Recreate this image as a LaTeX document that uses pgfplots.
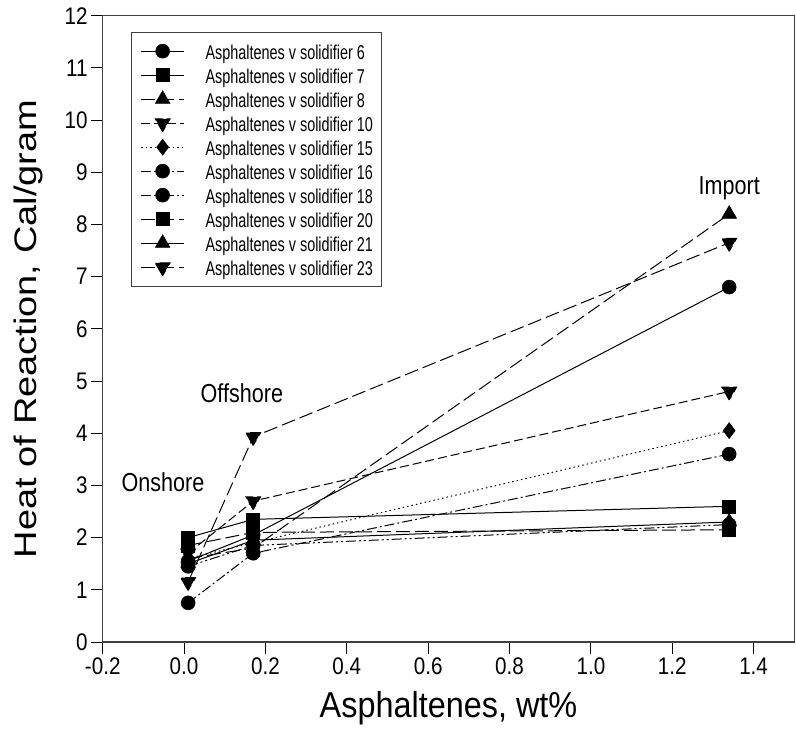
\documentclass[border=0pt]{standalone}
\usepackage{graphicx}
\usepackage{pgfplots}
\pgfplotsset{compat=1.18}
\usepackage{fontspec}
\setmainfont{Liberation Sans}

% line patterns of the ten series
\tikzset{
  longdash/.style={dash pattern=on 14pt off 5pt},
  meddash/.style={dash pattern=on 9pt off 4pt},
  dotline/.style={dash pattern=on 1.5pt off 3pt},
  dashdot/.style={dash pattern=on 10pt off 3pt on 2pt off 3pt},
  dashdotdot/.style={dash pattern=on 10pt off 3pt on 2pt off 3pt on 2pt off 3pt},
}
% narrow-set text
\newcommand{\narrow}[2][0.82]{\scalebox{#1}[1]{#2}}
\newcommand{\entry}[1]{\addlegendentry{\narrow[0.72]{Asphaltenes v solidifier #1}}}

\begin{document}
\begin{tikzpicture}
\begin{axis}[
  at={(0pt,0pt)}, anchor=south west,
  scale only axis, width=691.6pt, height=626.3pt,
  xmin=-0.2, xmax=1.5, ymin=0, ymax=12,
  xtick={-0.2,0,0.2,0.4,0.6,0.8,1.0,1.2,1.4},
  ytick={0,1,2,3,4,5,6,7,8,9,10,11,12},
  xticklabel style={/pgf/number format/.cd, fixed, fixed zerofill, precision=1},
  /pgf/number format/assume math mode=true,
  tick pos=left, tick align=outside,
  major tick length=12pt,
  tick style={line width=1pt, black},
  axis line style={line width=1.1pt, black!75},
  ticklabel style={font=\fontsize{24}{28}\selectfont, xscale=0.86},
  xlabel={\narrow[0.9]{\fontsize{36}{40}\selectfont Asphaltenes, wt\%}},
  ylabel={\scalebox{1}[0.82]{\fontsize{38}{42}\selectfont Heat of Reaction, Cal/gram}},
  xlabel style={at={(axis description cs:0.5,-0.105)}, anchor=center},
  ylabel style={at={(axis description cs:-0.108,0.5)}, anchor=center},
  every axis plot/.append style={black, line width=1pt,
    mark options={solid, fill=black, line width=0.5pt}},
  legend cell align=left,
  legend style={at={(axis description cs:0.0411,0.9745)}, anchor=north west,
    draw=black!75, line width=1pt, font=\fontsize{20}{24}\selectfont,
    inner xsep=9pt, inner ysep=9pt,
    nodes={inner sep=0pt, text height=18pt, text depth=2pt},
    row sep=4pt,
    /tikz/every odd column/.append style={column sep=21pt}},
  legend image code/.code={%
    \draw[mark repeat=2, mark phase=2, #1]
      plot coordinates {(0pt,0pt) (21.5pt,0pt) (43pt,0pt)};},
  clip=false,
]
\addplot[mark=*, mark size=7pt, solid] coordinates {(0.01,1.55) (0.17,2.05) (1.34,6.8)};
\entry{6}
\addplot[mark=square*, mark size=6.5pt, solid] coordinates {(0.01,2.0) (0.17,2.35) (1.34,2.6)};
\entry{7}
\addplot[mark=triangle*, mark size=8.5pt, longdash] coordinates {(0.01,1.6) (0.17,1.8) (1.34,8.2)};
\entry{8}
\addplot[mark=triangle*, mark size=8.5pt, mark options={rotate=180}, meddash] coordinates {(0.01,1.7) (0.17,2.7) (1.34,4.8)};
\entry{10}
\addplot[mark=diamond*, mark size=8pt, dotline] coordinates {(0.01,1.6) (0.17,1.9) (1.34,4.05)};
\entry{15}
\addplot[mark=*, mark size=7pt, dashdot] coordinates {(0.01,0.75) (0.17,1.7) (1.34,3.6)};
\entry{16}
\addplot[mark=*, mark size=7pt, dashdotdot] coordinates {(0.01,1.45) (0.17,1.85) (1.34,2.25)};
\entry{18}
\addplot[mark=square*, mark size=6.5pt, longdash] coordinates {(0.01,1.85) (0.17,2.1) (1.34,2.15)};
\entry{20}
\addplot[mark=triangle*, mark size=8.5pt, solid] coordinates {(0.01,1.5) (0.17,1.95) (1.34,2.3)};
\entry{21}
\addplot[mark=triangle*, mark size=8.5pt, mark options={rotate=180}, longdash] coordinates {(0.01,1.15) (0.17,3.93) (1.34,7.65)};
\entry{23}

\node[font=\fontsize{26}{30}\selectfont, xscale=0.83] at (axis cs:-0.052,3.07) {Onshore};
\node[font=\fontsize{26}{30}\selectfont, xscale=0.83] at (axis cs:0.142,4.77) {Offshore};
\node[font=\fontsize{26}{30}\selectfont, xscale=0.83] at (axis cs:1.34,8.7) {Import};
\end{axis}
\pgfresetboundingbox
\path (-102.7pt,-98pt) rectangle (693.3pt,642pt);
\end{tikzpicture}
\end{document}
